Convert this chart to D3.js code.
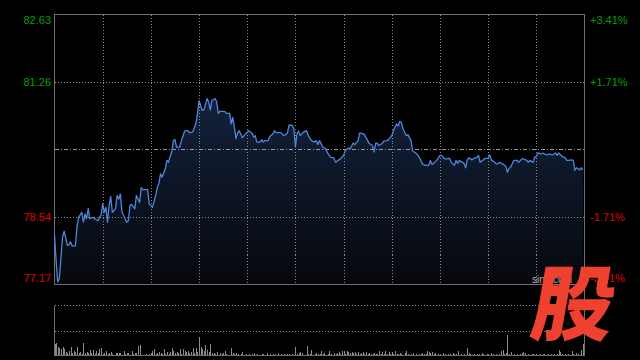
<!DOCTYPE html>
<html>
<head>
<meta charset="utf-8">
<script src="https://cdn.jsdelivr.net/npm/d3@7"></script>
<style>
  html, body { margin: 0; padding: 0; background: #000; }
  svg { display: block; }
</style>
</head>
<body>
<div id="chart"></div>
<script>
/**
 * DATA
 */
// [minute since open, price]
const trades = [
  [0,78.18],[1,77.66],[2,77.22],[3,77.29],[5,78.13],[6,78.25],[8,77.96],[9,77.98],[10,78.03],[11,77.95],
  [13,77.95],[14,78.33],[15,78.53],[17,78.63],[18,78.43],[19,78.60],[20,78.50],[21,78.71],[22,78.50],[24,78.53],
  [25,78.50],[27,78.46],[28,78.53],[29,78.57],[30,78.80],[31,78.63],[32,78.73],[33,78.43],[34,78.77],[35,78.95],
  [36,78.63],[38,78.70],[39,78.97],[40,78.90],[41,79.00],[42,78.63],[43,78.57],[45,78.43],[46,78.46],[47,78.77],
  [48,78.79],[50,78.70],[51,78.97],[52,78.90],[53,78.83],[54,79.13],[55,79.09],[58,79.09],[59,78.80],[61,78.73],
  [63,78.97],[64,79.13],[65,79.21],[66,79.41],[67,79.34],[69,79.51],[70,79.68],[71,79.64],[72,79.76],[73,79.85],
  [74,80.08],[75,80.10],[76,79.95],[78,79.95],[79,80.08],[81,80.27],[83,80.28],[84,80.24],[86,80.25],[88,80.42],
  [89,80.62],[90,80.89],[91,80.79],[92,80.69],[93,80.70],[95,80.93],[96,80.86],[97,80.70],[98,80.89],[100,80.93],
  [101,80.86],[102,80.63],[103,80.67],[106,80.67],[107,80.63],[109,80.63],[110,80.42],[111,80.55],[112,80.35],[113,80.12],
  [114,80.23],[115,80.28],[117,80.14],[119,80.22],[121,80.28],[123,80.23],[124,80.15],[125,80.18],[126,80.05],[128,80.05],
  [129,80.10],[130,80.05],[131,80.08],[133,80.08],[134,80.16],[136,80.22],[137,80.28],[138,80.24],[141,80.24],[143,80.18],
  [145,80.23],[146,80.39],[148,80.39],[149,80.32],[150,79.95],[151,80.22],[152,80.27],[153,80.18],[155,80.25],[157,80.28],
  [158,80.18],[160,80.08],[162,80.05],[163,80.08],[164,80.00],[165,80.08],[166,80.02],[167,79.95],[169,79.91],[170,79.83],
  [172,79.74],[174,79.73],[175,79.64],[177,79.69],[178,79.71],[180,79.78],[181,79.88],[183,79.93],[184,79.91],[186,80.03],
  [187,80.00],[189,80.08],[190,80.23],[191,80.23],[193,80.20],[194,80.14],[195,80.08],[196,80.02],[198,79.98],[199,79.85],
  [200,80.03],[201,80.03],[202,79.98],[204,80.02],[205,80.07],[207,80.08],[208,80.10],[210,80.18],[211,80.28],[213,80.42],
  [214,80.37],[215,80.47],[216,80.45],[217,80.32],[219,80.18],[220,80.20],[222,80.08],[223,79.87],[224,79.85],[226,79.80],
  [228,79.69],[229,79.61],[231,79.58],[233,79.58],[234,79.68],[235,79.60],[236,79.62],[238,79.68],[240,79.78],[241,79.78],
  [243,79.71],[244,79.71],[246,79.72],[247,79.64],[249,79.58],[250,79.68],[251,79.62],[252,79.68],[254,79.64],[255,79.62],
  [256,79.53],[257,79.69],[258,79.73],[260,79.69],[261,79.72],[263,79.74],[264,79.78],[265,79.64],[267,79.69],[268,79.72],
  [270,79.72],[271,79.79],[272,79.69],[274,79.64],[275,79.61],[276,79.61],[277,79.64],[279,79.61],[281,79.56],[282,79.44],
  [283,79.52],[284,79.54],[285,79.61],[286,79.68],[288,79.68],[289,79.64],[291,79.71],[292,79.71],[294,79.68],[295,79.64],
  [296,79.68],[298,79.64],[299,79.74],[300,79.76],[301,79.83],[303,79.81],[304,79.83],[305,79.81],[307,79.79],[308,79.81],
  [310,79.79],[312,79.83],[313,79.78],[314,79.83],[316,79.76],[318,79.73],[319,79.68],[320,79.68],[322,79.69],[323,79.68],
  [324,79.48],[325,79.53],[327,79.49],[328,79.53],[329,79.49]
];

// volume per minute (one value per minute, 0..329)
const volumes = [
  12,13,9,8,7,9,7,4,3,5,   9,3,5,4,9,3,4,2,13,3,   4,3,6,3,6,2,5,3,7,8,   2,3,5,2,3,4,2,1,3,3,
  3,3,1,5,2,3,3,1,5,2,     3,3,10,11,1,1,1,2,1,2,  3,5,7,2,3,4,3,2,7,2,   4,2,4,8,5,3,4,3,7,2,
  7,5,4,5,3,4,8,3,8,4,     19,9,7,5,11,6,4,12,3,3, 2,4,1,3,2,3,5,2,1,1,   8,3,2,3,2,1,2,4,1,2,
  1,2,1,2,3,1,2,1,1,2,     2,1,3,1,2,1,2,2,1,3,    1,2,1,2,1,2,2,1,2,1,   9,2,3,4,3,1,1,10,2,2,
  6,1,2,3,2,2,5,2,3,1,     2,5,2,1,3,2,3,4,2,5,    5,2,5,4,3,4,3,4,2,4,   2,3,4,2,4,2,3,2,2,3,
  2,2,5,2,4,2,5,2,4,2,     4,2,5,2,2,3,2,1,3,5,    2,1,2,3,1,2,1,2,2,3,   2,2,5,4,3,4,2,3,1,2,
  2,1,3,2,1,2,2,1,3,2,     2,5,1,2,1,2,1,8,3,2,    1,2,1,2,2,1,3,2,1,2,   2,1,3,2,1,2,1,2,5,6,
  2,3,21,2,4,1,2,1,2,1,    2,3,4,3,1,2,1,2,2,1,    2,1,2,1,2,2,1,2,1,2,   1,2,1,2,6,4,2,1,2,1,
  2,1,5,2,1,3,2,1,6,12
];

const SESSION_MINUTES = 330;
const PREV_CLOSE = 79.90;
const priceTicks = [82.63, 81.26, 78.54, 77.17];
const priceLabels = ["82.63", "81.26", "78.54", "77.17"];
const pctLabels = ["+3.41%", "+1.71%", "-1.71%", "-3.41%"];
const timeGrid = [30, 60, 90, 120, 150, 180, 210, 240, 270, 300];
const VOL_MAX = 50;

/**
 * Layout
 */
const WIDTH = 640, HEIGHT = 360;
const LEFT = 54.5, RIGHT = 584.5;
const P_TOP = 14.5, P_BOTTOM = 284.5;
const V_TOP = 305.5, V_BOTTOM = 355.5;

const GREEN = "#00a000", RED = "#e00000";
const FRAME = "#707070", GRID = "#8a8a8a";

let svg = d3.select("#chart")
  .append("svg")
  .attr("width", WIDTH)
  .attr("height", HEIGHT)
  .style("background-color", "#000");

let x = d3.scaleLinear().domain([0, SESSION_MINUTES]).range([LEFT, RIGHT]);
let y = d3.scaleLinear().domain([77.17, 82.63]).range([P_BOTTOM, P_TOP]);
let yv = d3.scaleLinear().domain([0, VOL_MAX]).range([V_BOTTOM, V_TOP]);

/**
 * gradient under the price line
 */
let defs = svg.append("defs");
let grad = defs.append("linearGradient")
  .attr("id", "areaFill")
  .attr("x1", 0).attr("y1", 0).attr("x2", 0).attr("y2", 1);
grad.append("stop").attr("offset", "0%").attr("stop-color", "#13213b");
grad.append("stop").attr("offset", "100%").attr("stop-color", "#06080c");

let area = d3.area()
  .x(d => x(d[0]))
  .y0(P_BOTTOM)
  .y1(d => y(d[1]));

svg.append("path")
  .datum(trades)
  .attr("d", area)
  .attr("fill", "url(#areaFill)");

/**
 * grid lines (price panel)
 */
let grid = svg.append("g").attr("shape-rendering", "crispEdges");

grid.selectAll(".vgrid")
  .data(timeGrid)
  .enter().append("line")
  .attr("class", "vgrid")
  .attr("x1", d => Math.round(x(d)) + 0.5).attr("x2", d => Math.round(x(d)) + 0.5)
  .attr("y1", P_TOP).attr("y2", P_BOTTOM)
  .attr("stroke", GRID)
  .attr("stroke-dasharray", "1,2");

grid.selectAll(".hgrid")
  .data([priceTicks[1], priceTicks[2]])
  .enter().append("line")
  .attr("class", "hgrid")
  .attr("x1", LEFT).attr("x2", RIGHT)
  .attr("y1", d => Math.round(y(d)) + 0.5).attr("y2", d => Math.round(y(d)) + 0.5)
  .attr("stroke", GRID)
  .attr("stroke-dasharray", "1,2");

// previous close line, dash-dot
grid.append("line")
  .attr("x1", LEFT).attr("x2", RIGHT)
  .attr("y1", Math.round(y(PREV_CLOSE)) + 0.5).attr("y2", Math.round(y(PREV_CLOSE)) + 0.5)
  .attr("stroke", "#9a9a9a")
  .attr("stroke-dasharray", "4,2,1,2");

// volume panel guides
grid.append("line")
  .attr("x1", LEFT).attr("x2", RIGHT)
  .attr("y1", V_TOP).attr("y2", V_TOP)
  .attr("stroke", GRID).attr("stroke-dasharray", "1,2");
grid.append("line")
  .attr("x1", LEFT).attr("x2", RIGHT)
  .attr("y1", Math.round(yv(VOL_MAX / 2)) + 0.5).attr("y2", Math.round(yv(VOL_MAX / 2)) + 0.5)
  .attr("stroke", GRID).attr("stroke-dasharray", "1,2");

/**
 * volume bars
 */
svg.append("g")
  .attr("shape-rendering", "crispEdges")
  .selectAll("rect")
  .data(volumes)
  .enter().append("rect")
  .attr("x", (d, i) => Math.round(x(i)))
  .attr("width", 1)
  .attr("y", d => yv(d))
  .attr("height", d => V_BOTTOM - yv(d))
  .attr("fill", "#8c8c8c");

/**
 * frames
 */
let frame = svg.append("g")
  .attr("fill", "none")
  .attr("stroke", FRAME)
  .attr("shape-rendering", "crispEdges");

frame.append("rect")
  .attr("x", LEFT).attr("y", P_TOP)
  .attr("width", RIGHT - LEFT).attr("height", P_BOTTOM - P_TOP);

frame.append("path")
  .attr("d", "M" + LEFT + "," + V_TOP + "V" + V_BOTTOM + "H" + RIGHT + "V" + P_BOTTOM);

/**
 * price line
 */
let line = d3.line()
  .x(d => x(d[0]))
  .y(d => y(d[1]));

svg.append("path")
  .datum(trades)
  .attr("d", line)
  .attr("fill", "none")
  .attr("stroke", "#4f86dc")
  .attr("stroke-width", 1.3)
  .attr("stroke-linejoin", "round");

/**
 * axis labels
 */
// nudge the edge labels inside the frame
function labelY(i){
  let ty = y(priceTicks[i]);
  if ( i == 0 ) { ty += 6; }
  if ( i == priceTicks.length - 1 ) { ty -= 6; }
  return ty;
}

let labels = svg.append("g")
  .style("font-family", "Arial, 'Liberation Sans', sans-serif")
  .style("font-size", "11px");

labels.selectAll(".lbl")
  .data(priceLabels)
  .enter().append("text")
  .attr("class", "lbl")
  .attr("x", 51)
  .attr("y", (d, i) => labelY(i))
  .attr("dy", "0.36em")
  .attr("text-anchor", "end")
  .attr("fill", (d, i) => priceTicks[i] > PREV_CLOSE ? GREEN : RED)
  .text(d => d);

labels.selectAll(".pct")
  .data(pctLabels)
  .enter().append("text")
  .attr("class", "pct")
  .attr("x", 590)
  .attr("y", (d, i) => labelY(i))
  .attr("dy", "0.36em")
  .attr("text-anchor", "start")
  .attr("fill", (d, i) => priceTicks[i] > PREV_CLOSE ? GREEN : RED)
  .text(d => d);

/**
 * watermark
 */
svg.append("text")
  .attr("x", 532)
  .attr("y", 283)
  .attr("fill", "#b0b0b0")
  .style("font-family", "Arial, 'Liberation Sans', sans-serif")
  .style("font-size", "10px")
  .text("sina.com");

svg.append("text")
  .attr("transform", "translate(528,334) skewX(-10)")
  .attr("fill", "#ee4130")
  .style("font-family", "'Noto Sans CJK SC', sans-serif")
  .style("font-weight", 900)
  .style("font-size", "82px")
  .text("股");
</script>
</body>
</html>
